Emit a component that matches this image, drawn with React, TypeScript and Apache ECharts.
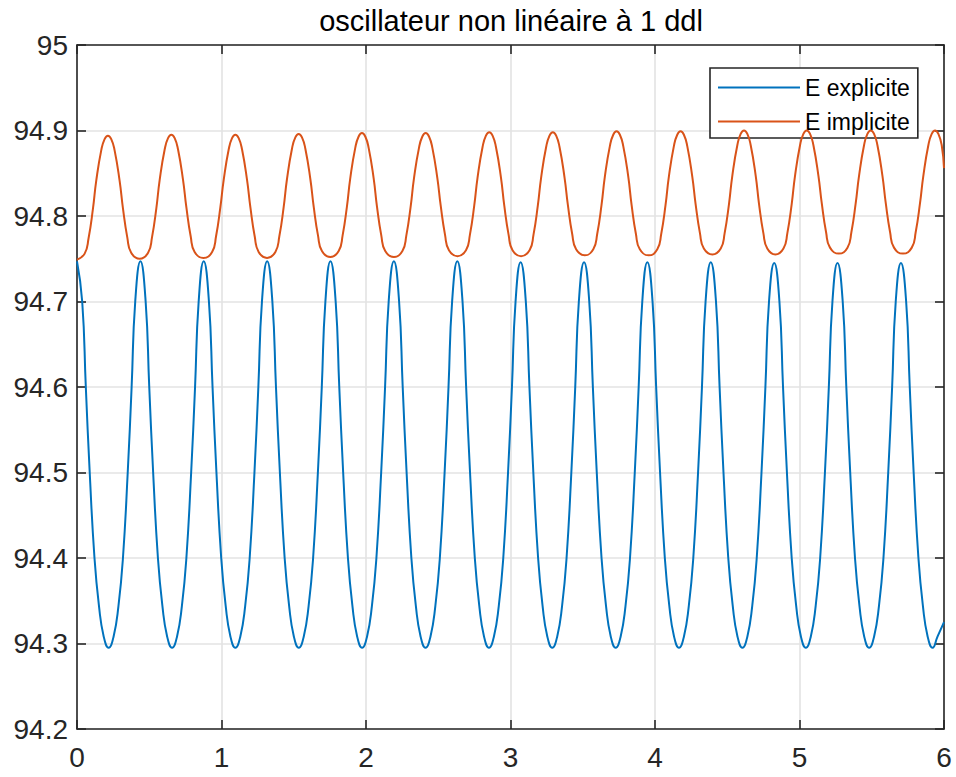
import React, { useEffect, useRef } from "react";
import * as echarts from "echarts";

const chartTitle = "oscillateur non linéaire à 1 ddl";
const seriesNames = ["E explicite", "E implicite"];
const xTicks = [0, 1, 2, 3, 4, 5, 6];
const yTicks = [94.2, 94.3, 94.4, 94.5, 94.6, 94.7, 94.8, 94.9, 95];

// E explicite : time samples and values
const explicitT = [
  0.000, 0.036, 0.061, 0.088, 0.121, 0.152, 0.185, 0.219, 0.253, 0.287, 0.318, 0.351, 0.378, 0.403,
  0.439, 0.475, 0.500, 0.527, 0.560, 0.591, 0.624, 0.658, 0.692, 0.726, 0.757, 0.790, 0.817, 0.842,
  0.877, 0.913, 0.938, 0.965, 0.998, 1.029, 1.062, 1.096, 1.130, 1.164, 1.195, 1.228, 1.255, 1.280,
  1.316, 1.352, 1.377, 1.404, 1.437, 1.468, 1.501, 1.535, 1.569, 1.603, 1.634, 1.667, 1.694, 1.719,
  1.754, 1.790, 1.815, 1.842, 1.875, 1.906, 1.939, 1.973, 2.007, 2.041, 2.072, 2.105, 2.132, 2.157,
  2.193, 2.229, 2.254, 2.281, 2.314, 2.345, 2.378, 2.412, 2.446, 2.480, 2.511, 2.544, 2.571, 2.596,
  2.632, 2.668, 2.693, 2.720, 2.753, 2.784, 2.817, 2.851, 2.885, 2.919, 2.950, 2.983, 3.010, 3.035,
  3.070, 3.106, 3.131, 3.158, 3.191, 3.222, 3.255, 3.289, 3.323, 3.357, 3.388, 3.421, 3.448, 3.473,
  3.509, 3.545, 3.570, 3.597, 3.630, 3.661, 3.694, 3.728, 3.762, 3.796, 3.827, 3.860, 3.887, 3.912,
  3.947, 3.983, 4.008, 4.035, 4.068, 4.099, 4.132, 4.166, 4.200, 4.234, 4.265, 4.298, 4.325, 4.350,
  4.386, 4.422, 4.447, 4.474, 4.507, 4.538, 4.571, 4.605, 4.639, 4.673, 4.704, 4.737, 4.764, 4.789,
  4.825, 4.861, 4.886, 4.913, 4.946, 4.977, 5.010, 5.044, 5.078, 5.112, 5.143, 5.176, 5.203, 5.228,
  5.263, 5.299, 5.324, 5.351, 5.384, 5.415, 5.448, 5.482, 5.516, 5.550, 5.581, 5.614, 5.641, 5.666,
  5.702, 5.738, 5.763, 5.790, 5.823, 5.854, 5.887, 5.921, 5.955, 6.000,
];
const explicitV = [
  94.747, 94.700, 94.600, 94.500, 94.400, 94.344, 94.308, 94.295, 94.308, 94.344, 94.400, 94.500, 94.600, 94.700,
  94.747, 94.700, 94.600, 94.500, 94.400, 94.344, 94.308, 94.295, 94.308, 94.344, 94.400, 94.500, 94.600, 94.700,
  94.747, 94.700, 94.600, 94.500, 94.400, 94.344, 94.308, 94.295, 94.308, 94.344, 94.400, 94.500, 94.600, 94.700,
  94.747, 94.700, 94.600, 94.500, 94.400, 94.344, 94.308, 94.295, 94.308, 94.344, 94.400, 94.500, 94.600, 94.700,
  94.747, 94.700, 94.600, 94.500, 94.400, 94.344, 94.308, 94.295, 94.308, 94.344, 94.400, 94.500, 94.600, 94.700,
  94.747, 94.700, 94.600, 94.500, 94.400, 94.344, 94.308, 94.295, 94.308, 94.344, 94.400, 94.500, 94.600, 94.700,
  94.747, 94.700, 94.600, 94.500, 94.400, 94.344, 94.308, 94.295, 94.308, 94.344, 94.400, 94.500, 94.600, 94.700,
  94.746, 94.700, 94.600, 94.500, 94.400, 94.344, 94.308, 94.295, 94.308, 94.344, 94.400, 94.500, 94.600, 94.700,
  94.746, 94.700, 94.600, 94.500, 94.400, 94.344, 94.308, 94.295, 94.308, 94.344, 94.400, 94.500, 94.600, 94.700,
  94.746, 94.700, 94.600, 94.500, 94.400, 94.344, 94.308, 94.295, 94.308, 94.344, 94.400, 94.500, 94.600, 94.700,
  94.746, 94.700, 94.600, 94.500, 94.400, 94.344, 94.308, 94.295, 94.308, 94.344, 94.400, 94.500, 94.600, 94.700,
  94.745, 94.700, 94.600, 94.500, 94.400, 94.344, 94.308, 94.295, 94.308, 94.344, 94.400, 94.500, 94.600, 94.700,
  94.745, 94.700, 94.600, 94.500, 94.400, 94.344, 94.308, 94.295, 94.308, 94.344, 94.400, 94.500, 94.600, 94.700,
  94.745, 94.700, 94.600, 94.500, 94.400, 94.344, 94.308, 94.295, 94.308, 94.325,
];

// E implicite : time samples and values
const implicitT = [
  0.000,
  0.053, 0.080, 0.110, 0.133, 0.168, 0.191, 0.214, 0.237, 0.260, 0.295, 0.318, 0.348, 0.375, 0.434,
  0.492, 0.519, 0.549, 0.572, 0.607, 0.630, 0.653, 0.676, 0.699, 0.734, 0.757, 0.787, 0.814, 0.875,
  0.935, 0.962, 0.992, 1.015, 1.050, 1.073, 1.096, 1.119, 1.142, 1.177, 1.200, 1.230, 1.257, 1.315,
  1.373, 1.400, 1.430, 1.453, 1.488, 1.511, 1.534, 1.557, 1.580, 1.615, 1.638, 1.668, 1.695, 1.753,
  1.811, 1.838, 1.868, 1.891, 1.926, 1.949, 1.972, 1.995, 2.018, 2.053, 2.076, 2.106, 2.133, 2.193,
  2.252, 2.279, 2.309, 2.332, 2.367, 2.390, 2.413, 2.436, 2.459, 2.494, 2.517, 2.547, 2.574, 2.633,
  2.692, 2.719, 2.749, 2.772, 2.807, 2.830, 2.853, 2.876, 2.899, 2.934, 2.957, 2.987, 3.014, 3.073,
  3.132, 3.159, 3.189, 3.212, 3.247, 3.270, 3.293, 3.316, 3.339, 3.374, 3.397, 3.427, 3.454, 3.514,
  3.573, 3.600, 3.630, 3.653, 3.688, 3.711, 3.734, 3.757, 3.780, 3.815, 3.838, 3.868, 3.895, 3.956,
  4.016, 4.043, 4.073, 4.096, 4.131, 4.154, 4.177, 4.200, 4.223, 4.258, 4.281, 4.311, 4.338, 4.397,
  4.455, 4.482, 4.512, 4.535, 4.570, 4.593, 4.616, 4.639, 4.662, 4.697, 4.720, 4.750, 4.777, 4.833,
  4.889, 4.916, 4.946, 4.969, 5.004, 5.027, 5.050, 5.073, 5.096, 5.131, 5.154, 5.184, 5.211, 5.272,
  5.332, 5.359, 5.389, 5.412, 5.447, 5.470, 5.493, 5.516, 5.539, 5.574, 5.597, 5.627, 5.654, 5.716,
  5.777, 5.804, 5.834, 5.857, 5.892, 5.915, 5.938, 5.961, 5.984, 6.000,
];
const implicitV = [
  94.749,
  94.756, 94.774, 94.808, 94.841, 94.877, 94.890, 94.894, 94.890, 94.877, 94.841, 94.809, 94.775, 94.757, 94.750,
  94.757, 94.775, 94.809, 94.842, 94.878, 94.891, 94.895, 94.891, 94.878, 94.842, 94.810, 94.776, 94.758, 94.751,
  94.758, 94.776, 94.810, 94.842, 94.878, 94.891, 94.895, 94.891, 94.878, 94.842, 94.810, 94.776, 94.758, 94.751,
  94.758, 94.776, 94.810, 94.843, 94.879, 94.892, 94.896, 94.892, 94.879, 94.843, 94.811, 94.777, 94.759, 94.752,
  94.759, 94.777, 94.811, 94.844, 94.880, 94.893, 94.897, 94.893, 94.880, 94.844, 94.811, 94.777, 94.759, 94.752,
  94.759, 94.777, 94.811, 94.844, 94.880, 94.893, 94.897, 94.893, 94.880, 94.844, 94.812, 94.778, 94.760, 94.753,
  94.760, 94.778, 94.812, 94.845, 94.881, 94.894, 94.898, 94.894, 94.881, 94.845, 94.812, 94.778, 94.760, 94.753,
  94.760, 94.778, 94.812, 94.845, 94.881, 94.894, 94.898, 94.894, 94.881, 94.845, 94.813, 94.779, 94.761, 94.754,
  94.761, 94.779, 94.813, 94.846, 94.882, 94.895, 94.899, 94.895, 94.882, 94.846, 94.813, 94.779, 94.761, 94.754,
  94.761, 94.779, 94.813, 94.846, 94.882, 94.895, 94.899, 94.895, 94.882, 94.846, 94.814, 94.780, 94.762, 94.755,
  94.762, 94.780, 94.814, 94.847, 94.883, 94.896, 94.900, 94.896, 94.883, 94.847, 94.814, 94.780, 94.762, 94.755,
  94.762, 94.780, 94.814, 94.847, 94.883, 94.896, 94.900, 94.896, 94.883, 94.847, 94.815, 94.781, 94.763, 94.756,
  94.763, 94.781, 94.815, 94.847, 94.883, 94.896, 94.900, 94.896, 94.883, 94.847, 94.815, 94.781, 94.763, 94.756,
  94.763, 94.781, 94.815, 94.847, 94.883, 94.896, 94.900, 94.896, 94.883, 94.856,
];

const AXIS_COLOR = "#262626";
const GRID_COLOR = "#e3e3e3";
const FONT = "'Liberation Sans', Arial, Helvetica, sans-serif";

export default function App() {
  const ref = useRef<HTMLDivElement>(null);

  useEffect(() => {
    if (!ref.current) return;
    const chart = echarts.init(ref.current, null, { renderer: "svg" });

    const explicitData = explicitT.map((t, i) => [t, explicitV[i]]);
    const implicitData = implicitT.map((t, i) => [t, implicitV[i]]);

    const xMin = xTicks[0];
    const xMax = xTicks[xTicks.length - 1];
    const yMin = yTicks[0];
    const yMax = yTicks[yTicks.length - 1];

    const fmtY = (v: number) => String(parseFloat(v.toFixed(1)));

    const baseX = {
      type: "value" as const,
      min: xMin,
      max: xMax,
      interval: 1,
      axisLine: { show: true, onZero: false, lineStyle: { color: AXIS_COLOR, width: 1.6 } },
      axisTick: { show: true, inside: true, length: 9, lineStyle: { color: AXIS_COLOR, width: 1.6 } },
    };
    const baseY = {
      type: "value" as const,
      min: yMin,
      max: yMax,
      interval: 0.1,
      axisLine: { show: true, onZero: false, lineStyle: { color: AXIS_COLOR, width: 1.6 } },
      axisTick: { show: true, inside: true, length: 9, lineStyle: { color: AXIS_COLOR, width: 1.6 } },
    };

    chart.setOption({
      animation: false,
      backgroundColor: "#ffffff",
      textStyle: { fontFamily: FONT },
      grid: { left: 77, right: 12, top: 45, bottom: 48 },
      graphic: [
        {
          type: "text",
          x: 511,
          y: 21,
          style: {
            text: chartTitle,
            x: 0,
            y: 0,
            textAlign: "center",
            textVerticalAlign: "middle",
            fill: "#000000",
            font: `normal 29px ${FONT}`,
          },
        },
      ],
      legend: {
        orient: "vertical",
        left: 710,
        top: 68,
        padding: [8, 8, 5, 8],
        itemWidth: 82,
        itemHeight: 2,
        itemGap: 11,
        icon: "rect",
        backgroundColor: "#ffffff",
        borderColor: AXIS_COLOR,
        borderWidth: 1.6,
        borderRadius: 0,
        textStyle: { fontSize: 23, color: "#000000", fontFamily: FONT },
        data: seriesNames,
      },
      xAxis: [
        {
          ...baseX,
          position: "bottom",
          axisLabel: { show: true, fontSize: 28, color: AXIS_COLOR, margin: 14, fontFamily: FONT },
          splitLine: { show: true, lineStyle: { color: GRID_COLOR, width: 1.6 } },
        },
        {
          ...baseX,
          position: "top",
          axisLabel: { show: false },
          splitLine: { show: false },
        },
      ],
      yAxis: [
        {
          ...baseY,
          position: "left",
          axisLabel: {
            show: true,
            fontSize: 28,
            color: AXIS_COLOR,
            margin: 9,
            fontFamily: FONT,
            formatter: fmtY,
          },
          splitLine: { show: true, lineStyle: { color: GRID_COLOR, width: 1.6 } },
        },
        {
          ...baseY,
          position: "right",
          axisLabel: { show: false },
          splitLine: { show: false },
        },
      ],
      series: [
        {
          name: seriesNames[0],
          type: "line",
          xAxisIndex: 0,
          yAxisIndex: 0,
          data: explicitData,
          showSymbol: false,
          smooth: 0.5,
          color: "#0072BD",
          lineStyle: { width: 2, color: "#0072BD" },
          z: 3,
        },
        {
          name: seriesNames[1],
          type: "line",
          xAxisIndex: 0,
          yAxisIndex: 0,
          data: implicitData,
          showSymbol: false,
          smooth: 0.5,
          color: "#D95319",
          lineStyle: { width: 2, color: "#D95319" },
          z: 4,
        },
      ],
    });

    return () => {
      chart.dispose();
    };
  }, []);

  return (
    <div
      ref={ref}
      style={{ position: "fixed", left: 0, top: 0, width: 956, height: 777, background: "#fff" }}
    />
  );
}
